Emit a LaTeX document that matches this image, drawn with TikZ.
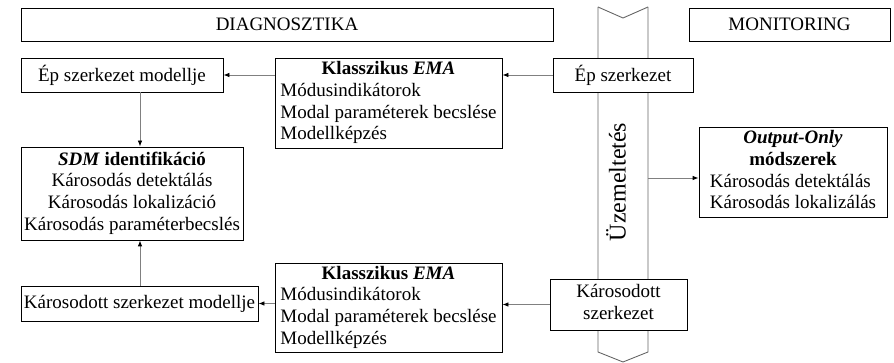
\documentclass[tikz,border=0pt]{standalone}
\usepackage{fontspec}
\setmainfont{Liberation Serif}
\usetikzlibrary{arrows.meta}
\begin{document}
\begin{tikzpicture}[x=1pt,y=-1pt,
  box/.style={draw=black, line width=0.8pt, fill=white, inner sep=0pt,
    font=\fontsize{19}{21.7}\selectfont},
  link/.style={draw=black!50, line width=0.8pt,
    -{Latex[length=6pt,width=4.5pt,color=black]}},
  band/.style={draw=black!60, line width=0.9pt}]
\useasboundingbox (0,0) rectangle (894,363);

% operation band with chevron ends
\coordinate (btl) at (598,7);
\coordinate (btr) at (648,7);
\coordinate (btn) at (623,18);
\coordinate (bbl) at (598,352);
\coordinate (bbr) at (648,352);
\coordinate (bbp) at (623,362);
\draw[band] (btl) -- (btn) -- (btr);
\draw[band] (btl) -- (bbl) -- (bbp) -- (bbr) -- (btr);
\node[rotate=90, inner sep=0pt, font=\fontsize{24}{28}\selectfont] (uzem) at (616,182) {Üzemeltetés};

% headers
\node[box, minimum width=532pt, minimum height=33pt] (diag) at (287,24.5) {DIAGNOSZTIKA};
\node[box, minimum width=201pt, minimum height=33pt] (moni) at (789.5,24.5) {MONITORING};

% structure inputs
\node[box, minimum width=140pt, minimum height=34pt] (ep) at (623,75) {Ép szerkezet};
\node[box, minimum width=137pt, minimum height=51pt] (kar) at (618.5,304.5)
  {\begin{tabular}{@{}c@{}}Károsodott\\szerkezet\end{tabular}};

% classical EMA boxes
\node[box, minimum width=227pt, minimum height=90pt] (ema1) at (388.5,103)
  {\begin{tabular}{@{}l@{}}\multicolumn{1}{@{}c@{}}{\textbf{Klasszikus \textit{EMA}}}\\
   Módusindikátorok\\Modal paraméterek becslése\\Modellképzés\end{tabular}};
\node[box, minimum width=227pt, minimum height=89pt] (ema2) at (388.5,307.5)
  {\begin{tabular}{@{}l@{}}\multicolumn{1}{@{}c@{}}{\textbf{Klasszikus \textit{EMA}}}\\
   Módusindikátorok\\Modal paraméterek becslése\\Modellképzés\end{tabular}};

% models and identification
\node[box, minimum width=202pt, minimum height=34pt] (epmod) at (122,75) {Ép szerkezet modellje};
\node[box, minimum width=237pt, minimum height=35pt] (karmod) at (139.5,303.5) {Károsodott szerkezet modellje};
\node[box, minimum width=222pt, minimum height=93pt] (sdm) at (132,193.5)
  {\begin{tabular}{@{}c@{}}\textbf{\textit{SDM} identifikáció}\\Károsodás detektálás\\
   Károsodás lokalizáció\\Károsodás paraméterbecslés\end{tabular}};

% output-only methods
\node[box, minimum width=188pt, minimum height=90pt] (oo) at (793,172)
  {\begin{tabular}{@{}l@{}}\multicolumn{1}{@{}c@{}}{\textbf{\textit{Output-Only}}}\\
   \multicolumn{1}{@{}c@{}}{\textbf{módszerek}}\\
   Károsodás detektálás\\Károsodás lokalizálás\end{tabular}};

% connectors
\coordinate (ootap) at (648,178);
\draw[link] (ep.west) -- (ema1.east |- ep.west);
\draw[link] (ema1.west |- epmod.east) -- (epmod.east);
\draw[link] (kar.west) -- (ema2.east |- kar.west);
\draw[link] (ema2.west |- karmod.east) -- (karmod.east);
\draw[link] (epmod.south -| 140,0) -- (sdm.north -| 140,0);
\draw[link] (karmod.north -| 140,0) -- (sdm.south -| 140,0);
\draw[link] (ootap) -- (oo.west |- ootap);
\end{tikzpicture}
\end{document}
